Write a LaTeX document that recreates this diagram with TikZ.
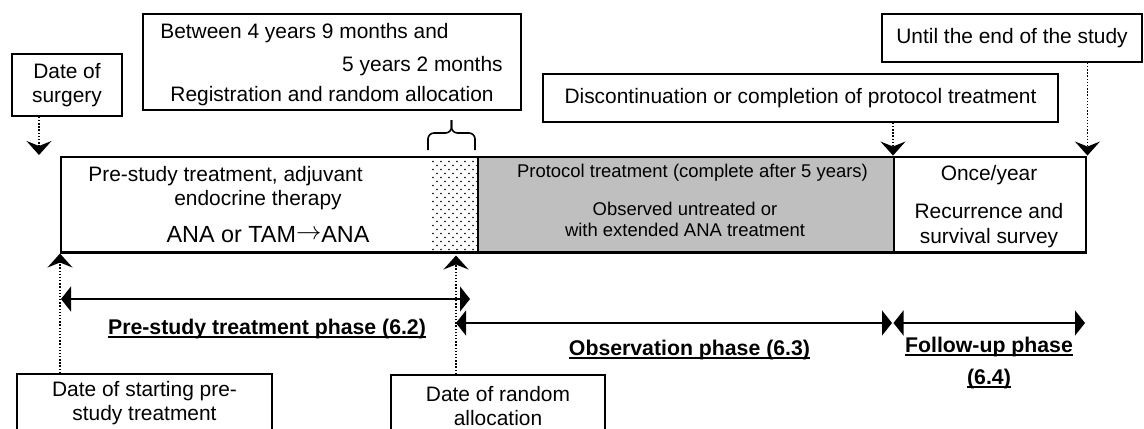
\documentclass[tikz,border=0pt]{standalone}
\usepackage{fontspec}
\setmainfont{Liberation Sans}
\usepackage{tikz}
\usetikzlibrary{arrows.meta}
\tikzset{>={Stealth[width=5mm,length=2.8mm,inset=1mm]}}
\tikzset{
  note/.style={draw=black, line width=0.9pt, inner sep=0pt, align=center, font=\fontsize{11.9}{13.6}\selectfont},
  plain/.style={inner sep=0pt, align=center, font=\fontsize{11.9}{13.6}\selectfont},
  bar/.style={draw=black, line width=1.4pt, anchor=south west, minimum height=1.91cm, inner sep=0pt},
  pointer/.style={->, densely dotted, line width=0.8pt},
  span/.style={arrows={Triangle[width=5mm,length=2mm]-Triangle[width=5mm,length=2mm]}, line width=0.8pt},
  phase/.style={inner sep=0pt, align=center, font=\bfseries\fontsize{12.1}{18}\selectfont}
}
\newcommand{\phaseul}[1]{\setbox0=\hbox{#1}\rlap{\rule[-2pt]{\wd0}{1.1pt}}\box0}

\begin{document}
\begin{tikzpicture}
  \useasboundingbox (0,0) rectangle (22.88,8.56);
  \clip (0,0) rectangle (22.88,8.56);

  % boxes above the bar
  \node[note, minimum width=2.2cm, minimum height=1.24cm] (surgery) at (1.34,6.86) {Date of\\surgery};
  \node[note, minimum width=7.56cm, minimum height=1.92cm] (window) at (6.64,7.32) {};
  \node[plain, anchor=west] (windowA) at (3.2,7.9) {Between 4 years 9 months and};
  \node[plain, anchor=east] (windowB) at (10.06,7.24) {5 years 2 months};
  \node[plain] (windowC) at (6.64,6.64) {Registration and random allocation};
  \node[note, minimum width=10.3cm, minimum height=0.96cm] (stop) at (16.01,6.6) {Discontinuation or completion of protocol treatment};
  \node[note, minimum width=5.2cm, minimum height=0.96cm] (until) at (20.24,7.8) {Until the end of the study};

  % the bar
  \foreach \r in {0,...,22}
    \foreach \c in {0,...,5}
      \fill ({8.66+0.16*\c+0.08*mod(\r,2)},{3.57+0.08*\r}) circle (0.55pt);
  \node[bar, minimum width=8.34cm] (pre) at (1.2,3.49) {};
  \node[bar, fill=gray!50, minimum width=8.32cm] (protocol) at (9.54,3.49) {};
  \node[bar, minimum width=3.84cm] (followup) at (17.86,3.49) {};

  \node[plain] (preText) at (4.51,4.79) {Pre-study treatment, adjuvant\\\hspace*{1.3cm}endocrine therapy};
  \node[plain, font=\fontsize{13.3}{16}\selectfont] (drugs) at (5.36,3.86) {ANA or TAM\raisebox{1.8pt}{$\rightarrow$}ANA};
  \node[plain, font=\fontsize{10.5}{11.9}\selectfont] (protoText) at (13.85,5.10) {Protocol treatment (complete after 5 years)};
  \node[plain, font=\fontsize{10.5}{11.9}\selectfont] (observe) at (13.7,4.17) {Observed untreated or\\with extended ANA treatment};
  \node[plain] (yearly) at (19.78,5.06) {Once/year};
  \node[plain, font=\fontsize{11.9}{14.2}\selectfont] (survey) at (19.78,4.05) {Recurrence and\\survival survey};

  % brace over the window
  \draw[line width=0.9pt, rounded corners=0.12cm] (8.56,5.56) -- (8.56,5.9) -- (9.03,5.9) -- (9.03,6.16);
  \draw[line width=0.9pt, rounded corners=0.12cm] (9.5,5.56) -- (9.5,5.9) -- (9.03,5.9) -- (9.03,6.16);

  % boxes below the bar
  \node[note, minimum width=5.1cm, minimum height=1.16cm] (start) at (2.89,0.5) {Date of starting pre-\\study treatment};
  \node[note, minimum width=4.28cm, minimum height=1.24cm] (random) at (9.96,0.44) {Date of random\\allocation};

  % dates
  \coordinate (surgeryTip) at (0.78,5.46);
  \coordinate (randomTip) at (9.12,3.45);
  \draw[pointer] (surgery.south -| surgeryTip) -- (surgeryTip);
  \draw[pointer] (stop.south -| followup.north west) -- (followup.north west);
  \draw[pointer] (until.south -| followup.north east) -- (followup.north east);
  \draw[pointer] (start.north -| pre.south west) -- (pre.south west);
  \draw[pointer] (random.north -| randomTip) -- (randomTip);

  % phases
  \coordinate (preL) at (1.22,2.58);
  \coordinate (preR) at (9.4,2.58);
  \coordinate (obsL) at (9.12,2.1);
  \coordinate (obsR) at (17.84,2.1);
  \coordinate (fuL) at (17.87,2.1);
  \coordinate (fuR) at (21.7,2.1);
  \draw[span] (preL) -- (preR);
  \draw[span] (obsL) -- (obsR);
  \draw[span] (fuL) -- (fuR);

  \node[phase] (prePhase) at (5.34,1.98) {\phaseul{Pre-study treatment phase (6.2)}};
  \node[phase] (obsPhase) at (13.79,1.56) {\phaseul{Observation phase (6.3)}};
  \node[phase] (fuPhase) at (19.78,1.30) {\phaseul{Follow-up phase}\\\phaseul{(6.4)}};
\end{tikzpicture}
\end{document}
